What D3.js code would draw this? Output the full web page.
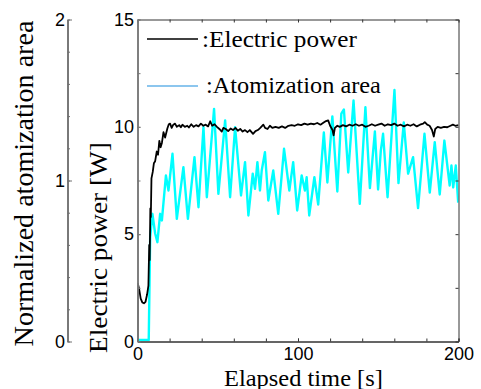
<!DOCTYPE html>
<html><head><meta charset="utf-8">
<script src="https://cdn.jsdelivr.net/npm/d3@7"></script>
<style>
html,body{margin:0;padding:0;background:#fff;}
svg{display:block;}
</style></head>
<body>
<svg id="c" width="481" height="389" font-family="Liberation Serif"></svg>
<script>
// ---- data ----
const powerTime = [0,0.2,1,2,3,4,5,6,6.8,7.3,7.6,8.0,8.3,8.7,9.5,10.2,11.0,12.0,12.8,13.6,14.4,15.2,16.2,17.2,18.6,19.5,20.3,21.3,22.3,23.4,24.5,26,27,28,29.5,31,32,33.5,35,36.5,38,39.5,41,42.5,44,45.3,46.5,48,49.5,51,52.5,53.5,55,56.5,58,59.5,61,62.5,64,65.5,67,68.5,70,72,73.5,75,76.5,78.4,79.5,81,82.5,84,86,88,90,92,94,96,98,100,102,104,106,108,110,112,114,116,117,118.8,120,121.5,122.2,123,124.5,126,128,130,132,134,136,138,140,142,144,146,148,150,152,154,156,158,160,162,164,166,168,170,172,174,176,178,179,180.5,182,183.5,184.6,185.5,187,189,191,193,195,196.5,198,200];
const powerW = [0,2.7,2.45,2.0,1.82,1.78,1.85,2.2,2.6,4.5,3.8,6.2,5.8,7.6,7.9,8.3,8.4,8.85,8.7,9.35,9.05,9.25,9.75,9.5,9.92,10.12,10.15,9.95,10.1,10.15,10.0,10.08,9.98,10.1,10.0,10.05,9.97,10.12,10.0,10.08,10.02,10.15,10.05,10.1,10.02,10.26,10.05,10.12,10.0,9.9,9.78,9.95,9.9,9.8,9.92,9.85,9.95,9.82,9.9,9.78,9.85,9.75,9.85,9.67,9.8,9.85,9.95,10.1,9.95,9.9,10.05,9.95,10.0,9.95,10.02,9.95,10.05,10.08,10.05,10.12,10.08,10.15,10.1,10.15,10.12,10.18,10.1,10.2,10.25,10.3,10.05,9.85,9.6,9.95,10.05,10.0,10.08,10.02,10.1,10.05,10.12,10.05,10.1,10.0,10.05,10.12,10.05,10.1,10.15,10.05,10.12,10.08,10.15,10.05,10.1,10.02,10.1,10.05,10.12,10.02,10.1,10.15,10.22,10.1,10.05,9.85,9.55,9.9,10.0,9.95,10.0,9.98,10.05,10.1,10.05,10.08];

const areaTime = [0,7.0,7.9,9.3,11.0,12.4,14.1,15.2,17.7,19.3,21.8,24.5,28.6,31.4,35.5,38.0,41.1,43.2,47.7,50.4,54.6,57.7,60.8,64.5,67.0,69.1,71.8,73.2,74.7,76.3,77.4,79.4,81.5,84.6,87.7,91.3,94.6,97.0,99.5,102.3,104.3,105.4,107.0,110.2,112.6,116.1,118.3,121.4,124.5,127.0,128.6,131.3,134.6,138.5,142.0,144.8,147.9,149.9,151.6,153.0,155.8,160.1,162.6,165.9,168.6,171.7,174.8,178.8,182.1,185.2,188.3,191.2,194.5,195.6,196.7,198.3,199.8];
const areaNorm = [0.01,0.01,0.648,0.793,0.671,0.617,0.793,0.752,1.031,0.938,1.166,0.762,1.083,0.762,1.145,0.834,1.331,0.896,1.445,0.917,1.373,0.896,1.331,0.907,1.114,0.783,1.042,0.948,1.114,0.938,1.062,1.176,0.876,1.062,0.793,1.197,0.938,1.114,0.814,1.031,0.938,1.020,0.783,1.020,0.851,1.298,0.988,1.398,0.932,1.416,1.441,1.050,1.497,0.855,1.455,0.953,1.304,0.944,1.186,1.290,0.896,1.562,0.984,1.360,1.042,1.145,0.829,1.290,0.925,1.238,0.913,1.248,0.969,1.093,0.957,1.093,0.863];

const xTicks = [0,100,200];
const powerTicks = [0,5,10,15];
const normTicks = [0,1,2];
const legendLabels = [":Electric power", ":Atomization area"];
const xLabel = "Elapsed time [s]";
const powerLabel = "Electric power [W]";
const normLabel = "Normalized atomization area";

// ---- layout ----
const L = 137.5, R = 458.5, T = 19.5, B = 341.5, LX = 67.5;
const svg = d3.select("#c");
const x = d3.scaleLinear().domain([0,200]).range([L,R]);
const yP = d3.scaleLinear().domain([0,15]).range([B,T]);
const yN = d3.scaleLinear().domain([0,2]).range([B,T]);

function minor(step, lo, hi){ const a=[]; for(let v=lo; v<=hi+1e-9; v+=step) a.push(+v.toFixed(4)); return a; }

// serif text first, stretched to a target length along its direction
function serifText(str, size, px, py, rot, target, anchor){
  const grp = svg.append("g");
  const t = grp.append("text").attr("font-family","Liberation Serif").style("font-family","'Liberation Serif'")
    .attr("font-size",size).attr("fill","#000").attr("text-anchor",anchor).text(str);
  const len = t.node().getComputedTextLength();
  const s = (len > 0 && target) ? target/len : 1;
  grp.attr("transform",`translate(${px},${py}) rotate(${rot}) scale(${s},1)`);
  return t;
}
serifText(xLabel, 23, 224, 385.5, 0, 159, "start");
serifText(powerLabel, 26, 107, 247.5, -90, 211, "middle");
serifText(normLabel, 27, 33, 183.5, -90, 326, "middle");

// legend
const legColors = ["#000","#8cc6ee"];
const legY = [39, 86];
const legBase = [47, 93.3];
const legTextX = [202, 206];
const legLen = [155, 175];
legendLabels.forEach((s,i)=>{
  svg.append("line").attr("x1",147).attr("x2",198).attr("y1",legY[i]).attr("y2",legY[i])
    .attr("stroke",legColors[i]).attr("stroke-width",i===0?1.5:1.8);
  serifText(s, 23, legTextX[i], legBase[i], 0, legLen[i], "start");
});

svg.append("clipPath").attr("id","clip").append("rect").attr("x",L).attr("y",T-2).attr("width",R-L).attr("height",B-T+2);

const g = svg.append("g").attr("clip-path","url(#clip)");
const areaData = areaTime.map((t,i)=>[t,areaNorm[i]]);
const powerData = powerTime.map((t,i)=>[t,powerW[i]]);
g.append("path").datum(areaData).attr("fill","none").attr("stroke","#00ffff").attr("stroke-width",2.4)
  .attr("stroke-linejoin","round")
  .attr("d", d3.line().x(d=>x(d[0])).y(d=>yN(d[1])));
g.append("path").datum(powerData).attr("fill","none").attr("stroke","#000").attr("stroke-width",1.8)
  .attr("stroke-linejoin","round")
  .attr("d", d3.line().x(d=>x(d[0])).y(d=>yP(d[1])));

function styleAxis(sel, col, w){
  sel.attr("font-family","Liberation Sans").attr("font-size",18);
  sel.selectAll(".tick text").attr("fill","#000");
  sel.select(".domain").attr("stroke",col).attr("stroke-width",w);
  sel.selectAll(".tick line").attr("stroke",col).attr("stroke-width",1);
}
const fmt = d3.format("d");
const gb = svg.append("g").attr("transform",`translate(0,${B})`)
  .call(d3.axisBottom(x).tickValues(xTicks).tickFormat(fmt).tickSizeInner(-3).tickSizeOuter(0).tickPadding(5));
gb.selectAll(".tick text").attr("y",18.5).attr("dy",0);
styleAxis(gb,"#333",1);
const gbm = svg.append("g").attr("transform",`translate(0,${B})`)
  .call(d3.axisBottom(x).tickValues(minor(20,0,200)).tickSizeInner(-3).tickSizeOuter(0).tickFormat(""));
styleAxis(gbm,"#333",1);
const gt = svg.append("g").attr("transform",`translate(0,${T})`)
  .call(d3.axisTop(x).tickValues(minor(20,0,200)).tickSizeInner(-3).tickSizeOuter(0).tickFormat(""));
styleAxis(gt,"#333",1);
const gr = svg.append("g").attr("transform",`translate(${R},0)`)
  .call(d3.axisRight(yP).tickValues(minor(2.5,0,15)).tickSizeInner(-3).tickSizeOuter(0).tickFormat(""));
styleAxis(gr,"#333",1);
const gl = svg.append("g").attr("transform",`translate(${L},0)`)
  .call(d3.axisLeft(yP).tickValues(powerTicks).tickFormat(fmt).tickSizeInner(-3).tickSizeOuter(0).tickPadding(3.5));
styleAxis(gl,"#777",1.5);
const glm = svg.append("g").attr("transform",`translate(${L},0)`)
  .call(d3.axisLeft(yP).tickValues(minor(2.5,0,15)).tickSizeInner(-3).tickSizeOuter(0).tickFormat(""));
styleAxis(glm,"#777",1.5);

const gn = svg.append("g").attr("transform",`translate(${LX},0)`)
  .call(d3.axisLeft(yN).tickValues(normTicks).tickFormat(fmt).tickSizeInner(-4.5).tickSizeOuter(0).tickPadding(2.5));
styleAxis(gn,"#707070",1.5);
const gnm = svg.append("g").attr("transform",`translate(${LX},0)`)
  .call(d3.axisLeft(yN).tickValues(minor(0.2,0,2)).tickSizeInner(-2.5).tickSizeOuter(0).tickFormat(""));
styleAxis(gnm,"#707070",1.5);
</script>
</body></html>
